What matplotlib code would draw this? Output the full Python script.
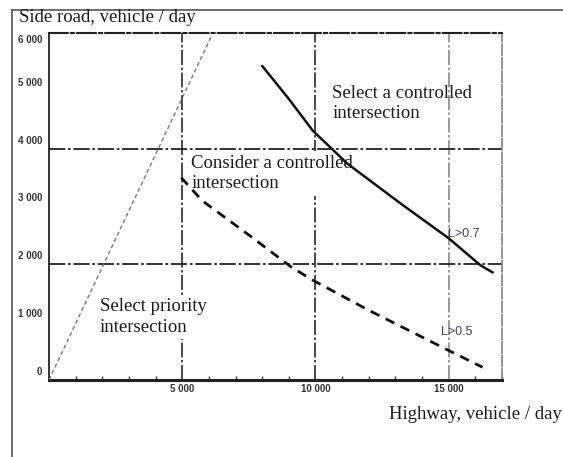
import numpy as np
import matplotlib
matplotlib.use("Agg")
import matplotlib.pyplot as plt
import matplotlib.transforms as mtransforms
from matplotlib.lines import Line2D
from matplotlib.ticker import MultipleLocator

# values
x_ticks = [5000, 10000, 15000]
x_tick_labels = ["5 000", "10 000", "15 000"]
y_ticks = [0, 1000, 2000, 3000, 4000, 5000, 6000]
y_tick_labels = ["0", "1 000", "2 000", "3 000", "4 000", "5 000", "6 000"]
v_lines = [5000, 10000, 15000]
h_lines = [2000, 4000]

# L>0.7 curve (solid)
hi_x = [8000, 9000, 9900, 11200, 13200, 15000, 16200, 16650]
hi_y = [5430, 4860, 4310, 3740, 3050, 2450, 1980, 1860]
# L>0.5 curve (dashed)
lo_x = [4960, 5750, 7610, 9100, 9920, 11980, 14960, 16270]
lo_y = [3500, 3100, 2470, 1950, 1720, 1210, 520, 220]
# priority limit (dotted)
pr_x = [0, 6100]
pr_y = [0, 5950]

serif = "Liberation Serif"
txt_col = "#1a1a1a"

fig = plt.figure(figsize=(5.63, 4.57), dpi=100)
ax = fig.add_axes([0.087, 0.1685, 0.8047, 0.7593])
ax.set_xlim(0, 17000)
ax.set_ylim(0, 6000)

grid_style = (0, (9, 1.5, 1.5, 1.5))
for xv in v_lines:
    col = "#8a8a8a" if xv == 15000 else "#2a2a2a"
    ax.axvline(xv, color=col, lw=1.2, ls=grid_style, zorder=1)
for yv in h_lines:
    ax.axhline(yv, color="#222222", lw=1.3, ls=grid_style, zorder=1)

ax.plot(pr_x, pr_y, color="#777777", lw=1.0, ls=(0, (3, 2)), zorder=3)
ax.plot(hi_x, hi_y, color="#111111", lw=1.8, zorder=3,
        solid_joinstyle="round", solid_capstyle="round")
ax.plot(lo_x, lo_y, color="#111111", lw=2.0, ls=(0, (3.5, 2.5)), zorder=3)

box = dict(boxstyle="square,pad=0.2", fc="white", ec="none")
ax.text(10630, 4780, "Select a controlled\nintersection", fontsize=13.5,
        family=serif, color=txt_col, ha="left", va="center", linespacing=1.25)
ax.text(5340, 3570, "Consider a controlled\nintersection", fontsize=13.5,
        family=serif, color=txt_col, ha="left", va="center", linespacing=1.25,
        bbox=box, zorder=2)
ax.text(1900, 1090, "Select priority\nintersection", fontsize=13.5,
        family=serif, color=txt_col, ha="left", va="center", linespacing=1.25,
        bbox=box, zorder=2)
ax.text(14960, 2530, "L>0.7", fontsize=9, family="Liberation Sans",
        color="#3a4350", ha="left", va="center")
ax.text(14700, 830, "L>0.5", fontsize=9, family="Liberation Sans",
        color="#3a4350", ha="left", va="center")

# spines
ax.spines["left"].set_linewidth(1.3)
ax.spines["left"].set_color("#222222")
ax.spines["bottom"].set_linewidth(2.2)
ax.spines["bottom"].set_color("#222222")
ax.spines["top"].set_linewidth(1.5)
ax.spines["top"].set_color("#222222")
ax.spines["top"].set_linestyle(grid_style)
ax.spines["right"].set_linewidth(1.3)
ax.spines["right"].set_color("#8a8a8a")
ax.spines["right"].set_linestyle((0, (6, 1.5)))

ax.set_xticks(x_ticks)
ax.set_xticklabels(x_tick_labels)
ax.xaxis.set_minor_locator(MultipleLocator(1000))
ax.tick_params(axis="x", which="major", length=0, pad=3)
ax.tick_params(axis="x", which="minor", direction="in", length=3, width=1,
               color="#333333")
ax.set_yticks(y_ticks)
ax.set_yticklabels(y_tick_labels)
ax.tick_params(axis="y", length=0, pad=5)
for lbl in ax.get_xticklabels() + ax.get_yticklabels():
    lbl.set_family("Liberation Sans")
    lbl.set_fontsize(7)
    lbl.set_fontweight("bold")
    lbl.set_color("#333333")
# the scanned labels sit a little above their lines
for lbl in ax.get_yticklabels():
    dy = -0.06 if lbl.get_text() == "6 000" else 0.09
    lbl.set_transform(lbl.get_transform() +
                      mtransforms.ScaledTranslation(0, dy, fig.dpi_scale_trans))

fig.text(0.0337, 0.961, "Side road, vehicle / day", fontsize=13.5,
         family=serif, color=txt_col, ha="left", va="center")
fig.text(0.998, 0.092, "Highway, vehicle / day", fontsize=13.5,
         family=serif, color=txt_col, ha="right", va="center")

# page frame
fig.add_artist(Line2D([0.0213, 1.0], [0.978, 0.978], transform=fig.transFigure,
                      color="#555555", lw=1.2))
fig.add_artist(Line2D([0.0213, 0.0213], [0.0, 0.978], transform=fig.transFigure,
                      color="#555555", lw=1.2))

fig.savefig("out.png", dpi=100)
